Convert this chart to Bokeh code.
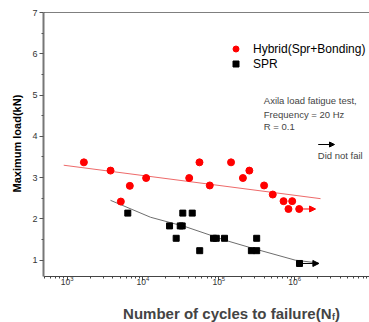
from bokeh.plotting import figure
from bokeh.models import (Range1d, FixedTicker, LogTickFormatter, Legend, LegendItem,
                          Label, Arrow, NormalHead, Span, Title)
from bokeh.embed import file_html
from bokeh.resources import INLINE

# ---- data ----
hybrid_cycles = [1660, 3730, 5100, 6700, 11000, 40700, 55600, 76000, 145000, 208000,
                 253000, 396000, 515000, 715000, 930000, 830000, 1150000]
hybrid_load = [3.37, 3.17, 2.42, 2.80, 2.99, 2.99, 3.37, 2.81, 3.37, 2.99,
               3.17, 2.81, 2.59, 2.43, 2.43, 2.24, 2.24]
spr_cycles = [6300, 22400, 27400, 31000, 32900, 33500, 44600, 56000, 85100, 92600,
              119000, 269000, 316000, 316000, 1160000]
spr_load = [2.14, 1.83, 1.53, 1.83, 1.83, 2.14, 2.14, 1.23, 1.53, 1.53,
            1.53, 1.23, 1.23, 1.53, 0.92]
hybrid_fit_cycles = [900, 2200000]
hybrid_fit_load = [3.30, 2.49]
spr_fit_cycles = [3725, 12560, 36400, 122700, 276000, 1020000, 2070000]
spr_fit_load = [2.45, 2.04, 1.81, 1.48, 1.29, 1.00, 0.93]
runout_hybrid = [1150000, 2.24]
runout_spr = [1160000, 0.92]
runout_hybrid_end = 1890000
runout_spr_end = 2090000
x_ticks = [1e3, 1e4, 1e5, 1e6]
y_ticks = [1, 2, 3, 4, 5, 6, 7]
y_axis_min = 0.6
series_labels = ["Hybrid(Spr+Bonding)", "SPR"]

FONT = "Liberation Sans"

p = figure(width=369, height=322, x_axis_type="log",
           x_range=Range1d(486.8, 9.73e6), y_range=Range1d(-0.51, 7),
           output_backend="svg", toolbar_location=None,
           min_border_left=43, min_border_right=0, min_border_top=12, min_border_bottom=0)
p.grid.visible = False
p.outline_line_color = None
p.background_fill_color = "white"
p.border_fill_color = "white"

# fit lines
p.line(hybrid_fit_cycles, hybrid_fit_load, line_color="#ee6a6a", line_width=1)
p.line(spr_fit_cycles, spr_fit_load, line_color="#6e6e6e", line_width=1)

# runout arrows
p.add_layout(Arrow(x_start=runout_hybrid[0], y_start=runout_hybrid[1],
                   x_end=runout_hybrid_end, y_end=runout_hybrid[1],
                   line_color="red", line_width=1,
                   end=NormalHead(size=6, fill_color="red", line_color="red")))
p.add_layout(Arrow(x_start=runout_spr[0], y_start=runout_spr[1],
                   x_end=runout_spr_end, y_end=runout_spr[1],
                   line_color="black", line_width=1,
                   end=NormalHead(size=6, fill_color="black", line_color="black")))

r_h = p.scatter(hybrid_cycles, hybrid_load, marker="circle", size=7,
                fill_color="red", line_color="red")
r_s = p.scatter(spr_cycles, spr_load, marker="square", size=6,
                fill_color="black", line_color="black")

# axes
p.yaxis.ticker = FixedTicker(ticks=y_ticks, minor_ticks=[t + 0.5 for t in y_ticks[:-1]])
p.yaxis.bounds = (y_axis_min, y_ticks[-1])
p.xaxis.ticker = FixedTicker(ticks=x_ticks,
                             minor_ticks=[m * 10 ** e for e in range(2, 7) for m in range(2, 10)])
p.xaxis.formatter = LogTickFormatter()
p.xaxis.fixed_location = y_axis_min
for ax in (p.xaxis, p.yaxis):
    ax.major_tick_in = 0
    ax.major_tick_out = 4
    ax.minor_tick_in = 0
    ax.minor_tick_out = 2
    ax.major_label_text_font = FONT
    ax.major_label_text_color = "#333333"
    ax.major_label_standoff = 2
p.yaxis.major_label_text_font_size = "9px"
p.xaxis.major_label_text_font_size = "8.5px"
p.xaxis.major_label_standoff = -5
p.yaxis.axis_line_color = "#777777"
p.yaxis.axis_line_width = 2
p.yaxis.major_tick_line_color = "#555555"
p.yaxis.minor_tick_line_color = "#555555"
p.xaxis.axis_line_color = "#444444"
p.xaxis.axis_line_width = 1.2
p.xaxis.major_tick_line_color = "#444444"
p.xaxis.minor_tick_line_color = "#444444"

# y axis title (left panel, placed along the bounded axis)
p.add_layout(Title(text="Maximum load(kN)", align="left", offset=130,
                   vertical_align="middle", standoff=12,
                   text_font=FONT, text_font_size="11px", text_font_style="bold",
                   text_color="black"), "left")

# top border
p.add_layout(Span(location=7, dimension="width", line_color="black", line_width=1))

# x axis title with subscript
p.add_layout(Label(x=288, y=9, x_units="screen", y_units="screen",
                   text="Number of cycles to failure(N", text_font=FONT,
                   text_font_size="15px", text_font_style="bold",
                   text_align="right", text_baseline="middle"))
p.add_layout(Label(x=288.5, y=5.5, x_units="screen", y_units="screen",
                   text="f", text_font=FONT, text_font_size="9px", text_font_style="bold",
                   text_align="left", text_baseline="middle"))
p.add_layout(Label(x=291.5, y=9, x_units="screen", y_units="screen",
                   text=")", text_font=FONT, text_font_size="15px", text_font_style="bold",
                   text_align="left", text_baseline="middle"))

# legend
legend = Legend(items=[LegendItem(label=series_labels[0], renderers=[r_h]),
                       LegendItem(label=series_labels[1], renderers=[r_s])],
                location=(185, 251), padding=0, margin=0, spacing=0,
                glyph_width=15, glyph_height=15, label_height=15, label_standoff=10,
                border_line_color=None, background_fill_alpha=0,
                label_text_font=FONT, label_text_font_size="12px",
                label_text_color="black")
p.add_layout(legend)

# annotation text
notes = ["Axila load fatigue test,", "Frequency = 20 Hz", "R = 0.1"]
note_y = [222.3, 208.3, 195.7]
for t, yy in zip(notes, note_y):
    p.add_layout(Label(x=220.3, y=yy, x_units="screen", y_units="screen", text=t,
                       text_font=FONT, text_font_size="9.5px",
                       text_align="left", text_baseline="middle"))
p.add_layout(Arrow(x_start=274.7, y_start=178, x_end=291, y_end=178,
                   start_units="screen", end_units="screen",
                   line_color="black", line_width=1,
                   end=NormalHead(size=5, fill_color="black", line_color="black")))
p.add_layout(Label(x=274.3, y=166.7, x_units="screen", y_units="screen", text="Did not fail",
                   text_font=FONT, text_font_size="9.5px",
                   text_align="left", text_baseline="middle"))

open("out.html", "w").write(file_html(p, INLINE))
